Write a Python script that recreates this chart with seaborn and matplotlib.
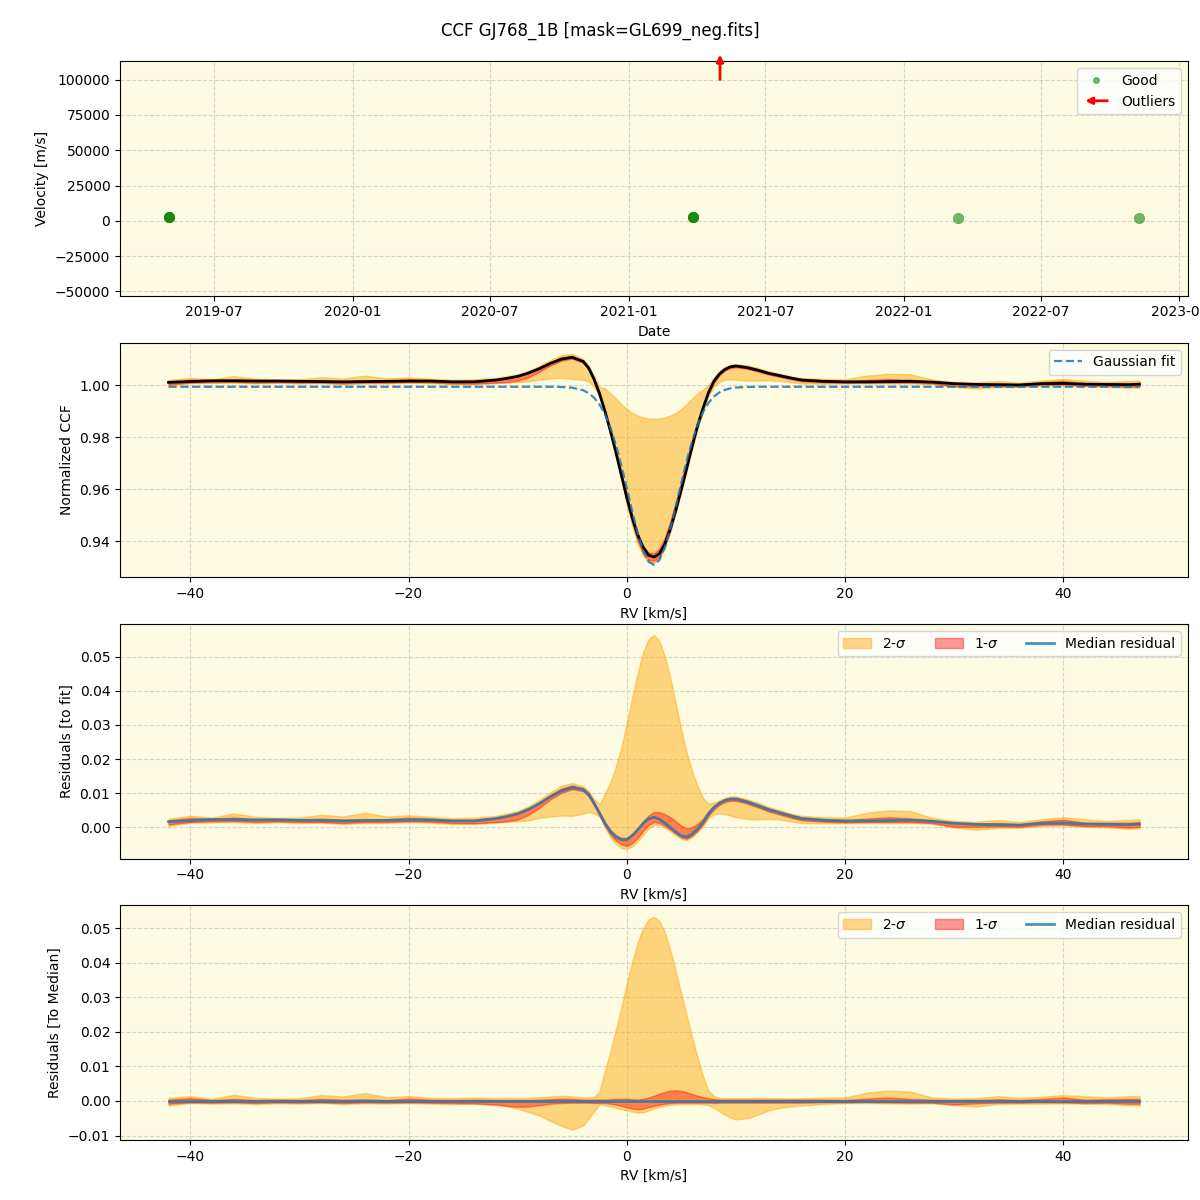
import numpy as np
import pandas as pd
import matplotlib
matplotlib.use("Agg")
import matplotlib.pyplot as plt
import matplotlib.dates as mdates
import matplotlib.patches as mpatches
from matplotlib.lines import Line2D
from matplotlib.legend_handler import HandlerPatch
import seaborn as sns

TITLE = "CCF GJ768_1B [mask=GL699_neg.fits]"

# ---- top panel: velocities per epoch ----
good_dates = ["2019-05-02", "2019-05-02", "2019-05-02",
              "2021-03-27", "2021-03-27", "2021-03-27",
              "2022-03-14", "2022-11-09"]
good_vel = [2800, 2800, 2800, 2750, 2750, 2750, 2100, 2050]
outlier_dates = ["2021-05-02"]
vel_ylim = (-53000, 113000)

# ---- CCF grid (km/s) ----
rv_grid = [-42, -40, -38, -36, -34, -32, -30, -28, -26, -24, -22, -20, -18, -16, -14, -12,
           -11, -10, -9, -8, -7, -6, -5, -4,
           -3.5, -3, -2.5, -2, -1.5, -1, -0.5, 0, 0.5, 1, 1.5, 2, 2.5, 3, 3.5, 4, 4.5, 5,
           5.5, 6, 6.5, 7, 7.5, 8, 8.5, 9, 9.5,
           10, 11, 12, 13, 14, 15, 16,
           18, 20, 22, 24, 26, 28, 30, 32, 34, 36, 38, 40, 42, 44, 46, 47]

gauss_fit = [0.9995] * 16 + \
    [0.9995, 0.9995, 0.9995, 0.9995, 0.9995, 0.99942, 0.99914, 0.99816,
     0.99709, 0.99536, 0.99273, 0.98895, 0.9838, 0.97723, 0.96936, 0.9606, 0.95161, 0.94326,
     0.93651, 0.9322, 0.93092, 0.93283, 0.93769, 0.94483, 0.95339, 0.96239, 0.97102, 0.97865,
     0.98494, 0.98981, 0.99334, 0.99577, 0.99734, 0.99831, 0.99887,
     0.99919, 0.99943, 0.9995, 0.9995, 0.9995, 0.9995, 0.9995] + [0.9995] * 16

median_resid = [0.0017, 0.0020, 0.0023, 0.0023, 0.0022, 0.0022, 0.0021, 0.0020, 0.0019, 0.0020,
                0.0021, 0.0022, 0.0022, 0.0019, 0.0019, 0.0026,
                0.0032, 0.0040, 0.0053, 0.0070, 0.0090, 0.0107, 0.0117, 0.0111,
                0.0097, 0.0071, 0.0042, 0.0012, -0.0012, -0.0028, -0.0036, -0.0036, -0.0024,
                -0.0007, 0.0012, 0.0025, 0.0030, 0.0024, 0.0013, 0.0000, -0.0013, -0.0024,
                -0.0028, -0.0019, -0.0004, 0.0015, 0.0040, 0.0059, 0.0071, 0.0079, 0.0083,
                0.0083, 0.0075, 0.0064, 0.0052, 0.0043, 0.0034, 0.0026,
                0.0021, 0.0019, 0.0019, 0.0020, 0.0021, 0.0018, 0.0012, 0.0009, 0.0008, 0.0007,
                0.0012, 0.0013, 0.0010, 0.0009, 0.0008, 0.0010]

# quantile offsets of the individual CCFs relative to the median CCF
q2_hi = [0.0009, 0.0014, 0.0006, 0.0018, 0.0009, 0.0006, 0.0008, 0.0017, 0.0013, 0.0023,
         0.0011, 0.0014, 0.0009, 0.0008, 0.0010, 0.0008,
         0.0009, 0.0008, 0.0009, 0.0011, 0.0013, 0.0015, 0.0013, 0.0010,
         0.0010, 0.0012, 0.0026, 0.0087, 0.0144, 0.0206, 0.0270, 0.0340, 0.0403, 0.0458,
         0.0500, 0.0526, 0.0533, 0.0521, 0.0487, 0.0436, 0.0374, 0.0310, 0.0246, 0.0183,
         0.0125, 0.0071, 0.0029, 0.0014, 0.0009, 0.0008, 0.0008,
         0.0008, 0.0008, 0.0009, 0.0008, 0.0008, 0.0007, 0.0008,
         0.0009, 0.0010, 0.0024, 0.0030, 0.0027, 0.0010, 0.0007, 0.0008, 0.0014, 0.0009,
         0.0012, 0.0017, 0.0014, 0.0010, 0.0014, 0.0014]
q2_lo = [-0.0013, -0.0006, -0.0008, -0.0007, -0.0009, -0.0007, -0.0008, -0.0006, -0.0009, -0.0007,
         -0.0008, -0.0006, -0.0008, -0.0009, -0.0008, -0.0012,
         -0.0015, -0.0022, -0.0032, -0.0042, -0.0058, -0.0072, -0.0083, -0.0071,
         -0.0052, -0.0030, -0.0010, -0.0012, -0.0016, -0.0020, -0.0024, -0.0027, -0.0031,
         -0.0034, -0.0033, -0.0028, -0.0022, -0.0017, -0.0014, -0.0011, -0.0010, -0.0009,
         -0.0009, -0.0009, -0.0009, -0.0010, -0.0012, -0.0020, -0.0030, -0.0040, -0.0048,
         -0.0053, -0.0050, -0.0040, -0.0027, -0.0020, -0.0016, -0.0013,
         -0.0009, -0.0006, -0.0006, -0.0007, -0.0008, -0.0007, -0.0012, -0.0016, -0.0009,
         -0.0008, -0.0008, -0.0007, -0.0008, -0.0009, -0.0012, -0.0013]
q1_hi = [0.0004, 0.0008, 0.0003, 0.0006, 0.0003, 0.0004, 0.0003, 0.0006, 0.0004, 0.0005,
         0.0003, 0.0007, 0.0004, 0.0003, 0.0004, 0.0003,
         0.0003, 0.0003, 0.0003, 0.0004, 0.0005, 0.0007, 0.0006, 0.0004,
         0.0004, 0.0004, 0.0004, 0.0004, 0.0005, 0.0006, 0.0006, 0.0006, 0.0005, 0.0004,
         0.0006, 0.0010, 0.0015, 0.0021, 0.0026, 0.0030, 0.0031, 0.0029, 0.0025, 0.0020,
         0.0015, 0.0011, 0.0008, 0.0005, 0.0004, 0.0004, 0.0004,
         0.0004, 0.0004, 0.0004, 0.0004, 0.0004, 0.0004, 0.0004,
         0.0004, 0.0003, 0.0007, 0.0010, 0.0006, 0.0004, 0.0003, 0.0003, 0.0005, 0.0003,
         0.0006, 0.0010, 0.0004, 0.0005, 0.0006, 0.0006]
q1_lo = [-0.0008, -0.0004, -0.0005, -0.0004, -0.0006, -0.0004, -0.0005, -0.0004, -0.0006, -0.0004,
         -0.0005, -0.0004, -0.0005, -0.0006, -0.0007, -0.0010,
         -0.0014, -0.0017, -0.0016, -0.0012, -0.0008, -0.0006, -0.0005, -0.0005,
         -0.0005, -0.0006, -0.0006, -0.0006, -0.0008, -0.0010, -0.0014, -0.0018, -0.0022,
         -0.0024, -0.0022, -0.0018, -0.0014, -0.0011, -0.0008, -0.0006, -0.0005, -0.0005,
         -0.0005, -0.0005, -0.0005, -0.0005, -0.0005, -0.0006, -0.0005, -0.0005, -0.0005,
         -0.0005, -0.0005, -0.0005, -0.0005, -0.0005, -0.0005, -0.0005,
         -0.0004, -0.0004, -0.0003, -0.0004, -0.0005, -0.0005, -0.0010, -0.0007, -0.0005,
         -0.0005, -0.0004, -0.0004, -0.0006, -0.0005, -0.0008, -0.0008]

# ---------------------------------------------------------------------------
rv = np.array(rv_grid, dtype=float)
fit = np.array(gauss_fit)
res_med = np.array(median_resid)
med = fit + res_med
q2h, q2l = np.array(q2_hi), np.array(q2_lo)
q1h, q1l = np.array(q1_hi), np.array(q1_lo)

BG = "#FDFBE2"
C_LINE = "#1f77b4"

fig, axes = plt.subplots(4, 1, figsize=(12, 12), dpi=100)
fig.subplots_adjust(left=0.1, right=0.99, top=0.949, bottom=0.05, hspace=0.2)
fig.suptitle(TITLE, y=0.982, fontsize=12)

for ax in axes:
    ax.set_facecolor(BG)
    ax.grid(True, linestyle="--", color="#b0b0b0", alpha=0.5)
    ax.set_axisbelow(True)

# ---- panel 1 ----
ax = axes[0]
df_good = pd.DataFrame({"date": pd.to_datetime(good_dates), "vel": good_vel})
sns.scatterplot(data=df_good, x="date", y="vel", ax=ax, color="green", alpha=0.55,
                s=55, edgecolor="green", linewidth=0.5, legend=False)
ax.set_ylim(*vel_ylim)
for d in outlier_dates:
    xd = mdates.date2num(pd.to_datetime(d))
    ax.annotate("", xy=(xd, 1.04), xytext=(xd, 0.91),
                xycoords=("data", "axes fraction"), textcoords=("data", "axes fraction"),
                arrowprops=dict(arrowstyle="-|>", color="red", lw=2, mutation_scale=10),
                annotation_clip=False)
ax.xaxis.set_major_locator(mdates.MonthLocator(bymonth=[1, 7]))
ax.xaxis.set_major_formatter(mdates.DateFormatter("%Y-%m"))
ax.set_xlabel("Date")
ax.set_ylabel("Velocity [m/s]")


class ArrowHandler(HandlerPatch):
    def create_artists(self, legend, orig_handle, xdescent, ydescent, width, height,
                       fontsize, trans):
        y = 0.5 * height - ydescent
        a = mpatches.FancyArrowPatch((width - xdescent, y), (-xdescent, y),
                                     arrowstyle="-|>", mutation_scale=10,
                                     color="red", lw=2)
        a.set_transform(trans)
        return [a]


good_handle = Line2D([], [], marker="o", color="green", alpha=0.5, linestyle="",
                     markersize=4)
arrow_handle = mpatches.FancyArrowPatch((0, 0), (1, 0))
ax.legend([good_handle, arrow_handle], ["Good", "Outliers"], loc="upper right",
          handler_map={arrow_handle: ArrowHandler()})

# ---- panel 2 ----
ax = axes[1]
ax.fill_between(rv, med + q2l, med + q2h, color="orange", alpha=0.45)
ax.fill_between(rv, med + q1l, med + q1h, color="red", alpha=0.4)
sns.lineplot(x=rv, y=med, ax=ax, color="black", lw=2, errorbar=None)
sns.lineplot(x=rv, y=fit, ax=ax, color=C_LINE, lw=1.6, alpha=0.85, linestyle="--",
             errorbar=None, label="Gaussian fit")
ax.set_ylim(0.9262, 1.0165)
ax.set_xlabel("RV [km/s]")
ax.set_ylabel("Normalized CCF")
ax.legend(loc="upper right")

# ---- panel 3 ----
ax = axes[2]
base = med - fit
ax.fill_between(rv, base + q2l, base + q2h, color="orange", alpha=0.45, label="2-$\\sigma$")
ax.fill_between(rv, base + q1l, base + q1h, color="red", alpha=0.4, label="1-$\\sigma$")
sns.lineplot(x=rv, y=base, ax=ax, color=C_LINE, lw=2, alpha=0.8, errorbar=None,
             label="Median residual")
ax.set_ylim(-0.0091, 0.0595)
ax.set_xlabel("RV [km/s]")
ax.set_ylabel("Residuals [to fit]")
ax.legend(loc="upper right", ncol=3)

# ---- panel 4 ----
ax = axes[3]
base = med - med
ax.fill_between(rv, base + q2l, base + q2h, color="orange", alpha=0.45, label="2-$\\sigma$")
ax.fill_between(rv, base + q1l, base + q1h, color="red", alpha=0.4, label="1-$\\sigma$")
sns.lineplot(x=rv, y=base, ax=ax, color=C_LINE, lw=2, alpha=0.8, errorbar=None,
             label="Median residual")
ax.set_ylim(-0.0113, 0.0566)
ax.set_xlabel("RV [km/s]")
ax.set_ylabel("Residuals [To Median]")
ax.legend(loc="upper right", ncol=3)

for ax in axes[1:]:
    ax.set_xlim(-46.45, 51.45)

fig.savefig("out.png", dpi=100)
